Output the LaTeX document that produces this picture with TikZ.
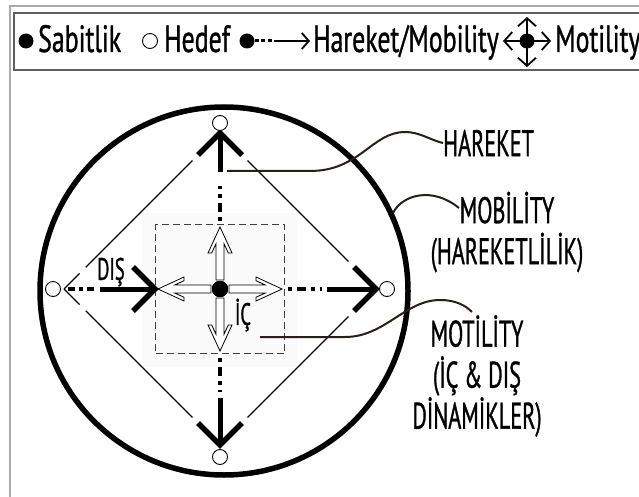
\documentclass[tikz,border=0pt]{standalone}
\usepackage{fontspec}
\setmainfont{PT Sans}
\newfontfamily\narrowfont{PT Sans}[FakeStretch=0.68, FakeBold=0.8]
\newfontfamily\labelfont{PT Sans}[FakeStretch=0.6, FakeBold=0.8]
\usepackage{tikz}
\usetikzlibrary{arrows.meta, calc}
\usepackage{xcolor}
\definecolor{framegray}{RGB}{170, 170, 170}
\definecolor{boxgray}{RGB}{95, 95, 95}
\definecolor{wirebrown}{RGB}{42, 30, 22}

\tikzset{
  axisdash/.style={line width=4.5pt, dash pattern=on 4pt off 5pt on 9pt off 5pt},
  shaft/.style={line width=5pt},
  chevron/.style={line width=5.5pt, line join=miter},
  edge/.style={line width=1.4pt},
  target/.style={circle, draw, fill=white, line width=0.9pt, minimum size=15pt, inner sep=0pt},
  fixdot/.style={circle, fill=black, minimum size=15pt, inner sep=0pt},
  wire/.style={wirebrown, line width=2pt},
  lbl/.style={font=\labelfont\fontsize{37}{41}\selectfont, align=center, inner sep=0pt},
  legtext/.style={font=\narrowfont\fontsize{38}{40}\selectfont, anchor=base west, inner sep=0pt},
  midtext/.style={font=\labelfont\fontsize{31}{33}\selectfont, inner sep=0pt},
}

% open double-outlined arrow leaving the centre
\newcommand{\hollowarrow}[1]{
  \draw[fill=white, line width=0.8pt, line join=miter, shift={(ctr)}, rotate=#1]
    (9,4) -- (45.3,4) -- (36,8.3) -- (36,12) -- (62,0) -- (36,-12) -- (36,-8.3)
    -- (45.3,-4) -- (9,-4) -- cycle;
}

\begin{document}
\begin{tikzpicture}[x=1pt, y=-1pt]
  \useasboundingbox (0,0) rectangle (639,497);
  \fill[white] (0,0) rectangle (639,497);

  % frame and legend
  \draw[framegray, line width=2pt] (10,6) rectangle (700,560);
  \draw[boxgray, line width=1.5pt, fill=white] (14,13) rectangle (700,70);

  \node[fixdot] (sabitdot) at (26,41) {};
  \node[legtext] (sabit) at (38,52) {Sabitlik};
  \node[target] (hedefdot) at (150,41) {};
  \node[legtext] (hedef) at (164,52) {Hedef};
  \node[fixdot] (harekdot) at (247,41) {};
  \coordinate (harekmid) at (274,41);
  \coordinate (harektip) at (310,41);
  \draw[line width=3pt, dash pattern=on 4pt off 2.5pt] (harekdot.east) -- (harekmid);
  \draw[line width=1.8pt, -{Straight Barb[length=7pt, width=16pt]}] (harekmid) -- (harektip);
  \node[legtext] (hareket) at (313,52) {Hareket/Mobility};
  \node[fixdot] (motdot) at (527,41) {};
  \foreach \dx/\dy in {0/-24, 0/26, -24/0, 24/0}
    \draw[line width=1.8pt, -{Straight Barb[length=8pt, width=18pt]}] (motdot.center) -- ++(\dx,\dy);
  \node[legtext] (motility) at (555,52) {Motility};

  % main figure
  \coordinate (cc) at (224,291);
  \coordinate (ctr) at (220,289);
  \coordinate (T) at (220,133);
  \coordinate (B) at (220,445);
  \coordinate (L) at (64,289);
  \coordinate (R) at (376,289);

  \fill[black!2] (142,213) rectangle (297,367);
  \draw[line width=5.5pt] (cc) circle (184pt);

  \draw[edge] (L) -- ($(L)!0.10!(T)$) ($(L)!0.14!(T)$) -- ($(L)!0.823!(T)$);
  \draw[edge] ($(T)!0.177!(R)$) -- ($(T)!0.823!(R)$);
  \draw[edge] ($(R)!0.177!(B)$) -- ($(R)!0.823!(B)$);
  \draw[edge] ($(B)!0.177!(L)$) -- ($(B)!0.86!(L)$) ($(B)!0.90!(L)$) -- (L);

  \node[draw=black!75, line width=0.9pt, dash pattern=on 7pt off 4pt,
        minimum size=129pt, inner sep=0pt] (icbox) at (ctr) {};

  % dash-dot tails and solid shafts
  \draw[axisdash] (220,221) -- (220,186);
  \draw[shaft] (220,172) -- (T);
  \draw[axisdash] (288,289) -- (322,289);
  \draw[shaft] (327,289) -- (R);
  \draw[axisdash] (220,358) -- (220,392);
  \draw[shaft] (220,398) -- (B);
  \draw[axisdash, dash pattern=on 7pt off 4pt on 4pt off 4pt] (68,289) -- (96,289);
  \draw[shaft] (100,289) -- (icbox.west);

  \draw[chevron] (198,155) -- (T) -- (242,155);
  \draw[chevron] (354,267) -- (R) -- (354,311);
  \draw[chevron] (198,423) -- (B) -- (242,423);
  \draw[chevron] (133,267) -- (icbox.west) -- (133,311);

  \foreach \a in {0,90,180,270}
    \hollowarrow{\a}
  \node[fixdot, minimum size=16pt] (center) at (ctr) {};

  \node[target] (tT) at (220,123) {};
  \node[target] (tB) at (220,457) {};
  \node[target] (tL) at (53,289) {};
  \node[target] (tR) at (387,289) {};

  \node[midtext] (dis) at (111,272) {DIŞ};
  \node[midtext] (ic) at (243,315) {İÇ};

  % labels on the right
  \node[lbl, anchor=west] (lblhareket) at (443,143) {HAREKET};
  \node[lbl] (lblmobility) at (507,232) {MOBİLİTY\\(HAREKETLİLİK)};
  \node[lbl] (lblmotility) at (477,376) {MOTİLİTY\\(İÇ \& DIŞ\\DİNAMİKLER)};

  \coordinate (hartip) at (227,171);
  \coordinate (mobtip) at (393,213);
  \coordinate (mobend) at (459,208);
  \coordinate (mottip) at (260,337);
  \coordinate (motend) at (472,312);
  \draw[wire] (hartip) -- (310,171) .. controls (360,171) and (372,132) .. (405,132)
    .. controls (420,132) and (430,140) .. (lblhareket.west);
  \draw[wire] (mobtip) .. controls (402,195) and (432,186) .. (mobend);
  \draw[wire] (mottip) -- (345,337) .. controls (385,337) and (405,300) .. (440,300)
    .. controls (455,300) and (465,305) .. (motend);
\end{tikzpicture}
\end{document}
